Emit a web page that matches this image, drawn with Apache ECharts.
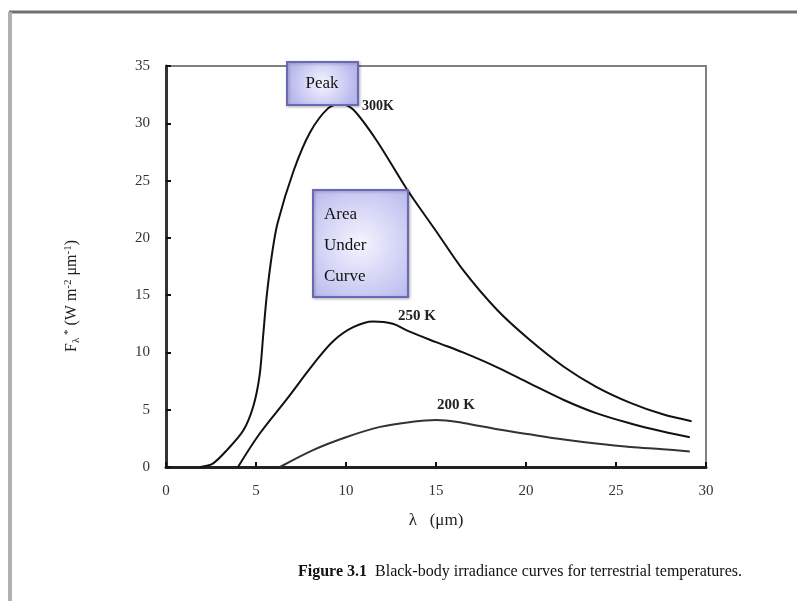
<!DOCTYPE html>
<html>
<head>
<meta charset="utf-8">
<script src="https://cdn.jsdelivr.net/npm/echarts@6/dist/echarts.min.js"></script>
<style>
html,body{margin:0;padding:0;background:#fff;}
#c{width:797px;height:601px;}
</style>
</head>
<body>
<div id="c"></div>
<script>
// Wavelength (μm) and irradiance values
const lambda300 = [1.9, 2.6, 3.4, 4.3, 4.85, 5.2, 5.4, 5.6, 5.9, 6.2, 7.1, 8.0, 9.0, 9.7, 10.4, 11.7, 13.4, 15.0, 16.5, 18.4, 20.2, 22.1, 23.9, 25.8, 27.6, 29.2];
const values300 = [0, 0.3, 1.5, 3.2, 5.3, 8.0, 11.5, 15.0, 18.7, 21.3, 25.9, 29.2, 31.3, 31.7, 31.2, 28.5, 24.2, 20.6, 17.2, 13.7, 11.1, 8.75, 7.0, 5.6, 4.6, 4.0];

const lambda250 = [4.0, 5.2, 6.7, 8.2, 9.3, 10.4, 11.5, 12.6, 13.4, 15.0, 16.5, 18.4, 20.2, 22.1, 23.9, 25.8, 27.6, 29.1];
const values250 = [0, 2.9, 5.9, 9.0, 11.0, 12.2, 12.7, 12.5, 11.9, 10.9, 10.0, 8.7, 7.3, 5.85, 4.7, 3.8, 3.1, 2.6];

const lambda200 = [6.33, 8.2, 10.0, 11.9, 13.7, 15.0, 16.5, 18.4, 20.2, 22.1, 23.9, 25.8, 27.6, 29.1];
const values200 = [0, 1.5, 2.6, 3.5, 3.95, 4.1, 3.85, 3.3, 2.85, 2.4, 2.05, 1.75, 1.55, 1.35];

const xTicks = [0, 5, 10, 15, 20, 25, 30];
const yTicks = [0, 5, 10, 15, 20, 25, 30, 35];

const zip = (xs, ys) => xs.map((x, i) => [x, ys[i]]);
const serif = '"Liberation Serif", "DejaVu Serif", serif';

const chart = echarts.init(document.getElementById('c'));

function boxFill() {
  return new echarts.graphic.RadialGradient(0.5, 0.5, 0.75, [
    {offset: 0, color: '#f4f4ff'},
    {offset: 1, color: '#b8b8ee'}
  ]);
}

const lineStyle = {color: '#111', width: 2};

chart.setOption({
  backgroundColor: '#fff',
  animation: false,
  grid: {left: 166, right: 91, top: 66, bottom: 134, show: true, borderColor: '#808080', borderWidth: 2, backgroundColor: 'transparent'},
  xAxis: {
    type: 'value', min: xTicks[0], max: xTicks[xTicks.length - 1], interval: 5,
    name: 'λ   (μm)', nameLocation: 'middle', nameGap: 45,
    nameTextStyle: {fontFamily: serif, fontSize: 17, color: '#222'},
    axisLine: {show: true, onZero: false, lineStyle: {color: '#222', width: 3}},
    axisTick: {show: true, inside: true, length: 5, lineStyle: {color: '#111', width: 2}},
    axisLabel: {margin: 17, fontFamily: serif, fontSize: 15, color: '#333'},
    splitLine: {show: false}
  },
  yAxis: {
    type: 'value', min: yTicks[0], max: yTicks[yTicks.length - 1], interval: 5,
    axisLine: {show: true, onZero: false, lineStyle: {color: '#333', width: 3}},
    axisTick: {show: true, inside: true, length: 5, lineStyle: {color: '#111', width: 2}},
    axisLabel: {margin: 16, fontFamily: serif, fontSize: 15, color: '#333'},
    splitLine: {show: false}
  },
  series: [
    {name: '300K', type: 'line', data: zip(lambda300, values300), smooth: 0.3, showSymbol: false, lineStyle: lineStyle},
    {name: '250 K', type: 'line', data: zip(lambda250, values250), smooth: 0.35, showSymbol: false, lineStyle: lineStyle},
    {name: '200 K', type: 'line', data: zip(lambda200, values200), smooth: 0.35, showSymbol: false, lineStyle: {color: '#333', width: 2}}
  ],
  graphic: [
    // outer page frame
    {type: 'line', shape: {x1: 9, y1: 12, x2: 797, y2: 12}, style: {stroke: '#707070', lineWidth: 3}, z: 10},
    {type: 'line', shape: {x1: 10, y1: 12, x2: 10, y2: 601}, style: {stroke: '#b0b0b0', lineWidth: 4}, z: 10},
    // y axis title
    {type: 'text', x: 72, y: 296, rotation: Math.PI / 2, style: {
      text: '{n|F}{s|λ}{p| *}{n| (W m}{p|-2}{n| μm}{p|-1}{n|)}',
      textAlign: 'center', textVerticalAlign: 'middle',
      rich: {
        n: {fontFamily: serif, fontSize: 16, fill: '#222'},
        s: {fontFamily: serif, fontSize: 11, fill: '#222', verticalAlign: 'bottom', padding: [8, 0, 0, 0]},
        p: {fontFamily: serif, fontSize: 11, fill: '#222', verticalAlign: 'top', padding: [0, 0, 8, 0]}
      }
    }, z: 21},
    // Peak annotation box
    {type: 'rect', shape: {x: 287, y: 62, width: 71, height: 43}, style: {fill: boxFill(), stroke: '#6a6ab4', lineWidth: 2, shadowBlur: 3, shadowColor: 'rgba(0,0,0,0.25)', shadowOffsetX: 1, shadowOffsetY: 1}, z: 20},
    {type: 'text', x: 322, y: 84, style: {text: 'Peak', font: '17px ' + serif, fill: '#111', textAlign: 'center', textVerticalAlign: 'middle'}, z: 21},
    // Area under curve box
    {type: 'rect', shape: {x: 313, y: 190, width: 95, height: 107}, style: {fill: boxFill(), stroke: '#6a6ab4', lineWidth: 2, shadowBlur: 3, shadowColor: 'rgba(0,0,0,0.25)', shadowOffsetX: 1, shadowOffsetY: 1}, z: 20},
    {type: 'text', x: 324, y: 215, style: {text: 'Area', font: '17px ' + serif, fill: '#111', textAlign: 'left', textVerticalAlign: 'middle'}, z: 21},
    {type: 'text', x: 324, y: 246, style: {text: 'Under', font: '17px ' + serif, fill: '#111', textAlign: 'left', textVerticalAlign: 'middle'}, z: 21},
    {type: 'text', x: 324, y: 277, style: {text: 'Curve', font: '17px ' + serif, fill: '#111', textAlign: 'left', textVerticalAlign: 'middle'}, z: 21},
    // curve labels
    {type: 'text', x: 362, y: 106, style: {text: '300K', font: 'bold 14px ' + serif, fill: '#222', textAlign: 'left', textVerticalAlign: 'middle'}, z: 21},
    {type: 'text', x: 398, y: 316, style: {text: '250 K', font: 'bold 15px ' + serif, fill: '#222', textAlign: 'left', textVerticalAlign: 'middle'}, z: 21},
    {type: 'text', x: 437, y: 405, style: {text: '200 K', font: 'bold 15px ' + serif, fill: '#222', textAlign: 'left', textVerticalAlign: 'middle'}, z: 21},
    // caption
    {type: 'text', x: 298, y: 572, style: {
      text: '{b|Figure 3.1}{r|  Black-body irradiance curves for terrestrial temperatures.}',
      textVerticalAlign: 'middle',
      rich: {
        b: {fontFamily: serif, fontSize: 16, fontWeight: 'bold', fill: '#111'},
        r: {fontFamily: serif, fontSize: 16, fill: '#111'}
      }
    }, z: 21}
  ]
});
</script>
</body>
</html>
